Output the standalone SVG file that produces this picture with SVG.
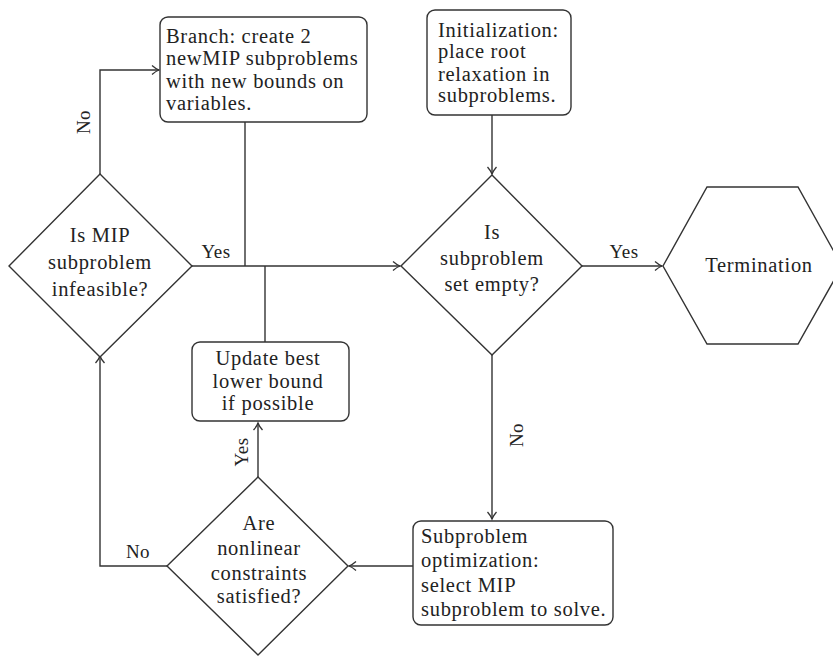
<svg xmlns="http://www.w3.org/2000/svg" width="833" height="656" viewBox="0 0 833 656">
<style>
.s{fill:#fff;stroke:#333;stroke-width:1.4}
.c{fill:none;stroke:#333;stroke-width:1.4}
text{font-family:"Liberation Serif","DejaVu Serif",serif;font-size:20.5px;letter-spacing:0.7px;fill:#222}
.l{font-size:19px;letter-spacing:0.5px}
.m{text-anchor:middle}
</style>
<defs>
<marker id="a" markerWidth="12" markerHeight="12" refX="9" refY="6" orient="auto" markerUnits="userSpaceOnUse">
<path d="M2,1.5 Q6,5 9,6 Q6,7 2,10.5" fill="none" stroke="#333" stroke-width="1.3"/>
</marker>
</defs>
<rect width="833" height="656" fill="#fff"/>
<g id="connectors">
<path class="c" d="M100,175 V70 H159" marker-end="url(#a)"/>
<path class="c" d="M192,266 H400" marker-end="url(#a)"/>
<path class="c" d="M245,122 V266"/>
<path class="c" d="M265,266 V342"/>
<path class="c" d="M492,115 V174" marker-end="url(#a)"/>
<path class="c" d="M582,266 H662" marker-end="url(#a)"/>
<path class="c" d="M492,355 V519" marker-end="url(#a)"/>
<path class="c" d="M413,566 H349" marker-end="url(#a)"/>
<path class="c" d="M167,566 H100 V356" marker-end="url(#a)"/>
<path class="c" d="M258,477 V423" marker-end="url(#a)"/>
<text x="0" y="0" class="m l" transform="translate(90,122) rotate(-90)">No</text>
<text x="216" y="258" class="m l">Yes</text>
<text x="624" y="258" class="m l">Yes</text>
<text x="0" y="0" class="m l" transform="translate(523,435) rotate(-90)">No</text>
<text x="138" y="558" class="m l">No</text>
<text x="0" y="0" class="m l" transform="translate(248,452) rotate(-90)">Yes</text>
</g>
<g id="branch">
<rect class="s" x="160" y="17" width="207" height="105" rx="8"/>
<text x="166" y="43">Branch: create 2</text>
<text x="166" y="65">newMIP subproblems</text>
<text x="166" y="88">with new bounds on</text>
<text x="166" y="110">variables.</text>
</g>
<g id="init">
<rect class="s" x="427" y="10" width="144" height="105" rx="8"/>
<text x="438" y="37">Initialization:</text>
<text x="438" y="58">place root</text>
<text x="438" y="81">relaxation in</text>
<text x="438" y="102">subproblems.</text>
</g>
<g id="infeasible">
<path class="s" d="M100,174 L192,266 L100,357 L9,266 Z"/>
<text x="100" y="242" class="m">Is MIP</text>
<text x="100" y="269" class="m">subproblem</text>
<text x="100" y="296" class="m">infeasible?</text>
</g>
<g id="empty">
<path class="s" d="M492,175 L582,266 L492,355 L401,266 Z"/>
<text x="492" y="239" class="m">Is</text>
<text x="492" y="265" class="m">subproblem</text>
<text x="492" y="291" class="m">set empty?</text>
</g>
<g id="termination">
<path class="s" d="M663,266 L707,187 L798,187 L842,266 L798,344 L707,344 Z"/>
<text x="759" y="272" class="m">Termination</text>
</g>
<g id="update">
<rect class="s" x="192" y="342" width="157" height="79" rx="8"/>
<text x="268" y="365" class="m">Update best</text>
<text x="268" y="388" class="m">lower bound</text>
<text x="268" y="410" class="m">if possible</text>
</g>
<g id="nonlinear">
<path class="s" d="M258,477 L348,566 L258,655 L167,566 Z"/>
<text x="259" y="530" class="m">Are</text>
<text x="259" y="555" class="m">nonlinear</text>
<text x="259" y="580" class="m">constraints</text>
<text x="259" y="603" class="m">satisfied?</text>
</g>
<g id="subopt">
<rect class="s" x="413" y="521" width="200" height="104" rx="8"/>
<text x="421" y="543">Subproblem</text>
<text x="421" y="567">optimization:</text>
<text x="421" y="592">select MIP</text>
<text x="421" y="616">subproblem to solve.</text>
</g>
</svg>
